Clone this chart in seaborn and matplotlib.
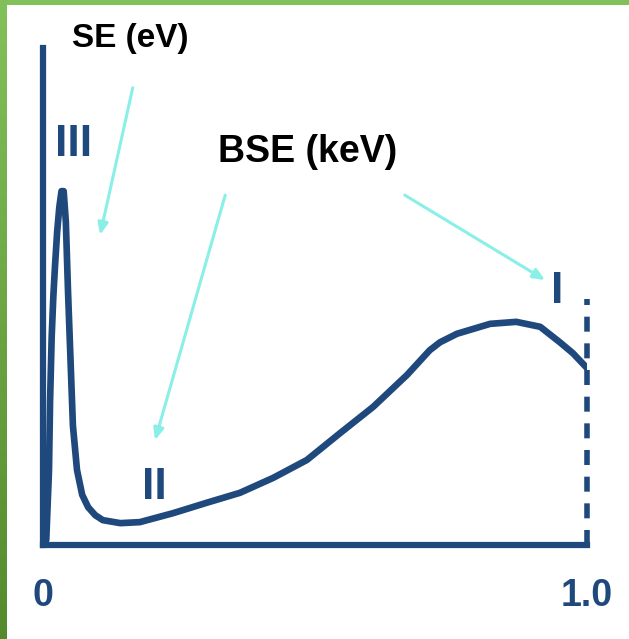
import numpy as np
import pandas as pd
import matplotlib
matplotlib.use("Agg")
import matplotlib.pyplot as plt
import seaborn as sns

# electron energy (fraction of beam energy) vs number of emitted electrons (schematic)
energy = [0.006, 0.011, 0.013, 0.016, 0.019, 0.022, 0.026, 0.030, 0.034,
          0.038, 0.042, 0.046, 0.050, 0.055, 0.0625, 0.072, 0.083, 0.096,
          0.110, 0.142, 0.178, 0.239, 0.301, 0.362, 0.423, 0.485, 0.546,
          0.607, 0.669, 0.711, 0.730, 0.761, 0.822, 0.870, 0.914, 0.950,
          0.974, 1.0]
counts = [0.010, 0.150, 0.290, 0.420, 0.500, 0.560, 0.630, 0.680, 0.712,
          0.712, 0.650, 0.510, 0.390, 0.240, 0.151, 0.101, 0.076, 0.060,
          0.050, 0.044, 0.046, 0.064, 0.085, 0.105, 0.135, 0.171, 0.225,
          0.278, 0.342, 0.392, 0.408, 0.425, 0.445, 0.449, 0.439, 0.408,
          0.386, 0.356]

tick_pos = [0, 1.0]
tick_labels = ["0", "1.0"]

region_labels = ["III", "II", "I"]
region_x = [0.057, 0.204, 0.945]
region_y = [0.805, 0.115, 0.511]

arrow_labels = ["SE (eV)", "BSE (keV)", ""]
label_xy = [(0.160, 1.020), (0.487, 0.791), None]
label_size = [24, 27, 0]
arrow_tail = [(0.165, 0.920), (0.335, 0.704), (0.665, 0.704)]
arrow_head = [(0.105, 0.624), (0.206, 0.211), (0.923, 0.533)]

blue = "#1f497d"
cyan = "#8aefe7"

sns.set_style("white")
plt.rcParams["font.family"] = ["Liberation Sans", "DejaVu Sans"]

W, H = 629, 639
fig = plt.figure(figsize=(W / 100, H / 100), dpi=100)
fig.patch.set_facecolor("white")

ax = fig.add_axes([43 / W, (H - 545) / H, (587 - 43) / W, (545 - 48) / H])
df = pd.DataFrame({"energy": energy, "counts": counts})
sns.lineplot(data=df, x="energy", y="counts", ax=ax, color=blue, lw=4.8,
             estimator=None, sort=False, solid_joinstyle="round")

ax.set_xlim(0, 1)
ax.set_ylim(0, 1)
ax.set_xlabel("")
ax.set_ylabel("")
ax.set_yticks([])
ax.set_xticks(tick_pos)
ax.set_xticklabels(tick_labels, fontweight="bold", fontsize=27, color=blue)
ax.tick_params(axis="x", length=0, pad=24)
for s in ["top", "right"]:
    ax.spines[s].set_visible(False)
for s in ["left", "bottom"]:
    ax.spines[s].set_color(blue)
    ax.spines[s].set_linewidth(4.5)

# dashed cut-off at the beam energy
ax.axvline(1.0, ymin=0, ymax=0.495, color=blue, lw=4, ls=(0, (2.7, 2.1)), clip_on=False)

for lab, x, y in zip(region_labels, region_x, region_y):
    ax.text(x, y, lab, ha="center", va="center", fontsize=32, fontweight="bold",
            color=blue, clip_on=False)

for lab, xy, fs, tail, head in zip(arrow_labels, label_xy, label_size, arrow_tail, arrow_head):
    ax.annotate("", xy=head, xytext=tail, annotation_clip=False,
                arrowprops=dict(arrowstyle="-|>,head_length=0.7,head_width=0.3",
                                color=cyan, lw=2.2, shrinkA=0, shrinkB=0))
    if lab:
        ax.text(xy[0], xy[1], lab, ha="center", va="center", fontsize=fs,
                fontweight="bold", color="black", clip_on=False)

# green slide frame
top = fig.add_axes([0, 1 - 5 / H, 1, 5 / H])
top.axis("off")
top.add_patch(plt.Rectangle((0, 0), 1, 1, color="#82c15a", transform=top.transAxes))
side = fig.add_axes([0, 0, 7 / W, 1])
grad = np.linspace(0, 1, 256).reshape(-1, 1)
cmap = matplotlib.colors.LinearSegmentedColormap.from_list("g", ["#82c15a", "#548a2c"])
side.imshow(grad, aspect="auto", cmap=cmap, extent=[0, 1, 0, 1], origin="upper")
side.axis("off")

fig.savefig("out.png", dpi=100)
